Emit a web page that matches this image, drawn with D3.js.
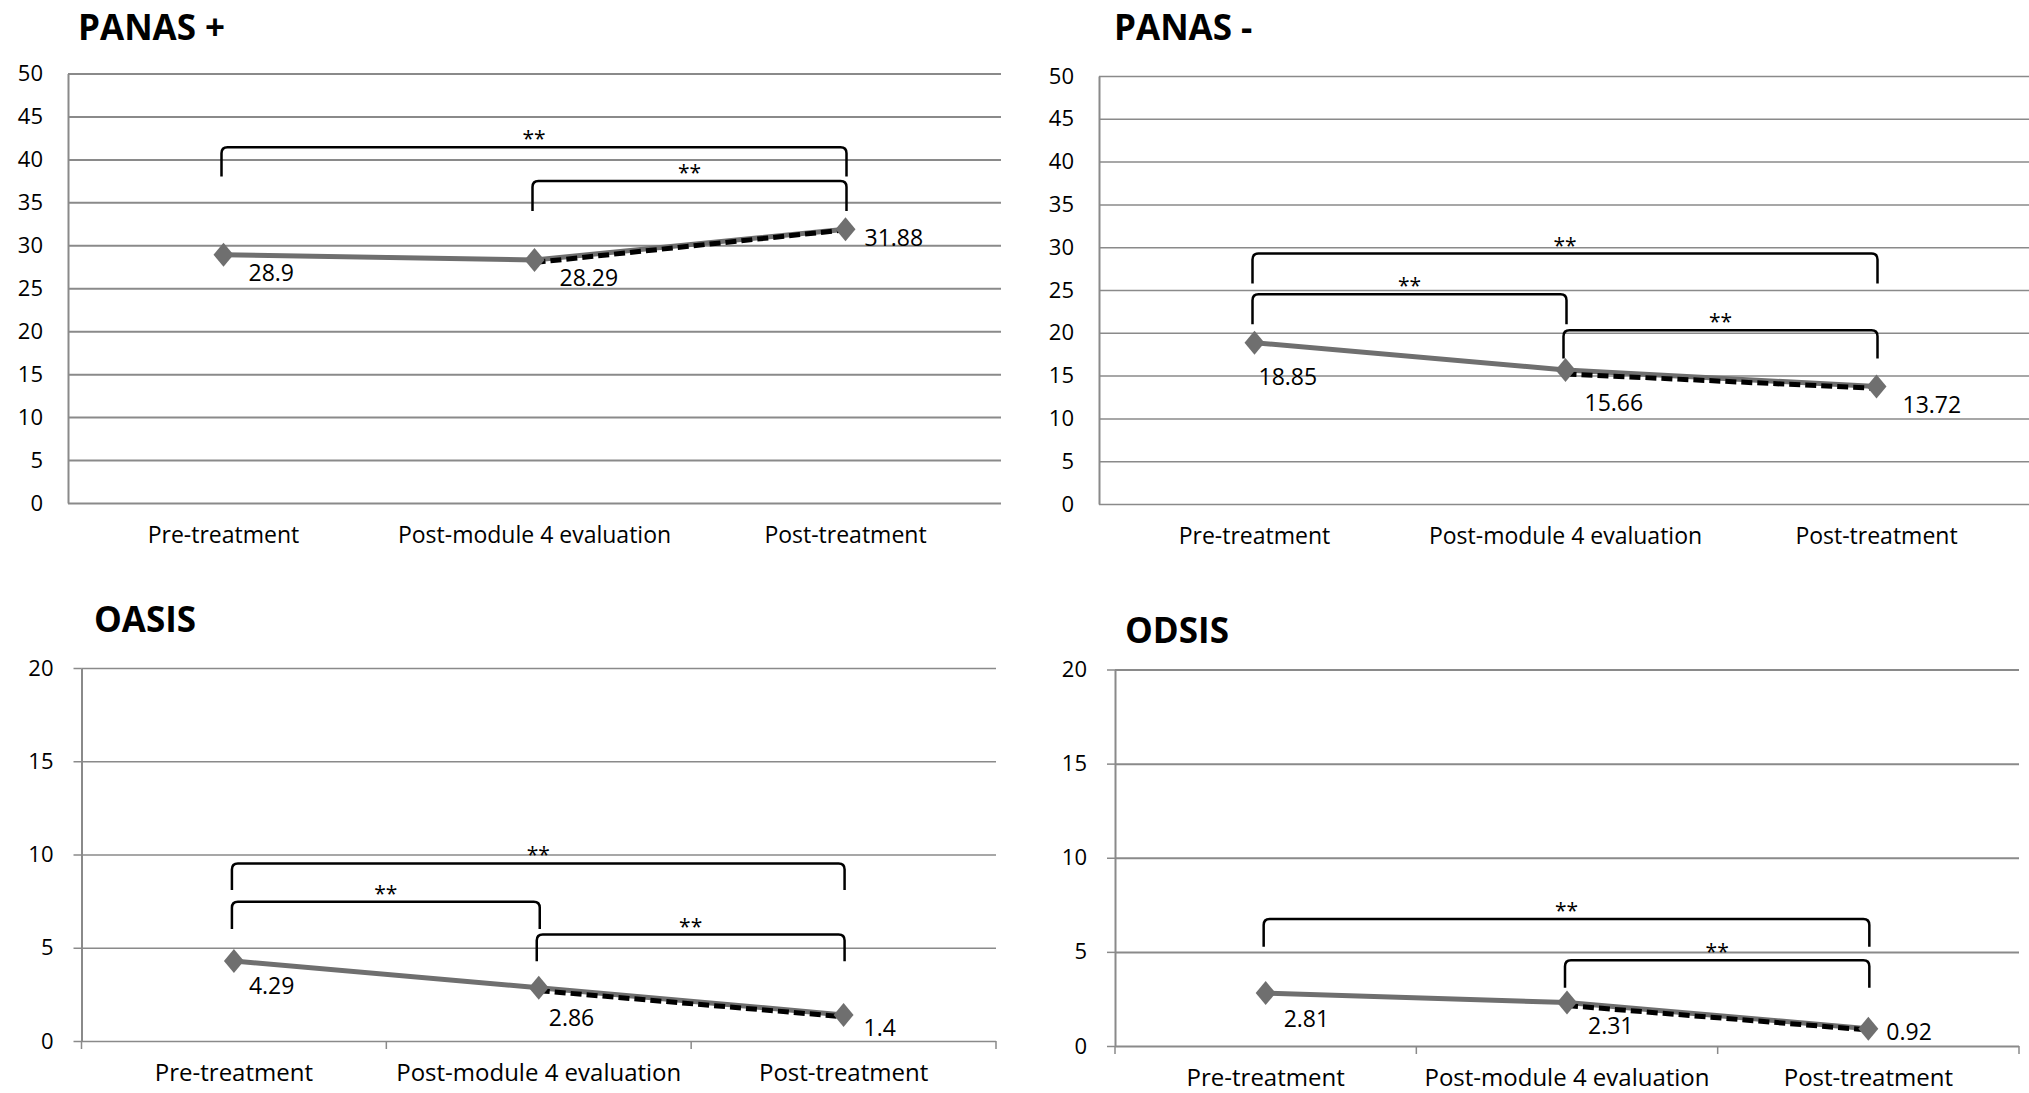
<!DOCTYPE html>
<html lang="en">
<head>
<meta charset="utf-8">
<title>PANAS / OASIS / ODSIS</title>
<script src="https://d3js.org/d3.v7.min.js"></script>
<style>
  body { margin: 0; background: #fff; }
  text { font-family: "Open Sans", "DejaVu Sans", sans-serif; fill: #000; }
</style>
</head>
<body>
<svg id="chart" width="2029" height="1093"></svg>
<script>
// ---- data ----
var categories = ["Pre-treatment", "Post-module 4 evaluation", "Post-treatment"];

var panasPosValues = [28.9, 28.29, 31.88];
var panasPosDashed = [null, 28.0, 31.8];
var panasPosBrackets = [[0, 2, 41.4, 38.0], [1, 2, 37.5, 34.0]];

var panasNegValues = [18.85, 15.66, 13.72];
var panasNegDashed = [null, 15.2, 13.5];
var panasNegBrackets = [[0, 2, 29.25, 25.75], [0, 1, 24.5, 21.0], [1, 2, 20.3, 17.0]];

var oasisValues = [4.29, 2.86, 1.4];
var oasisDashed = [null, 2.7, 1.3];
var oasisBrackets = [[0, 2, 9.52, 8.09], [0, 1, 7.47, 6.0], [1, 2, 5.71, 4.27]];

var odsisValues = [2.81, 2.31, 0.92];
var odsisDashed = [null, 2.15, 0.85];
var odsisBrackets = [[0, 2, 6.75, 5.27], [1, 2, 4.55, 3.1]];

var panasTicks = [0, 5, 10, 15, 20, 25, 30, 35, 40, 45, 50];
var scaleTicks = [0, 5, 10, 15, 20];

// ---- layout of the four panels ----
var panels = [
  { title: "PANAS +", values: panasPosValues, dashed: panasPosDashed, brackets: panasPosBrackets,
    ticks: panasTicks, max: 50, x0: 68, x1: 1001, yTop: 73.5, yBot: 503,
    titleX: 78, titleY: 40, labelY: 543, labelSize: 23, tickMarks: false, grid: 2,
    labelPos: [[25, 18], [25, 18], [19, 9]] },
  { title: "PANAS -", values: panasNegValues, dashed: panasNegDashed, brackets: panasNegBrackets,
    ticks: panasTicks, max: 50, x0: 1099, x1: 2032, yTop: 76, yBot: 504,
    titleX: 1114, titleY: 40, labelY: 544, labelSize: 23, tickMarks: false, grid: 1.5,
    labelPos: [[4, 34], [19, 33], [26, 18]] },
  { title: "OASIS", values: oasisValues, dashed: oasisDashed, brackets: oasisBrackets,
    ticks: scaleTicks, max: 20, x0: 81.5, x1: 996, yTop: 668, yBot: 1041,
    titleX: 94, titleY: 632, labelY: 1081, labelSize: 24, tickMarks: true, grid: 1.5,
    labelPos: [[15, 25], [10, 30], [20, 13]] },
  { title: "ODSIS", values: odsisValues, dashed: odsisDashed, brackets: odsisBrackets,
    ticks: scaleTicks, max: 20, x0: 1115, x1: 2019, yTop: 669.5, yBot: 1046,
    titleX: 1125, titleY: 643, labelY: 1086, labelSize: 24, tickMarks: true, grid: 2,
    labelPos: [[18, 26], [21, 23], [18, 3]] }
];

var svg = d3.select("#chart");
var gridColor = "#8a8a8a";
var lineColor = "#6f6f6f";

panels.forEach(function (p) {
  var g = svg.append("g");

  var x = d3.scaleBand().domain(categories).range([p.x0, p.x1]).paddingInner(0).paddingOuter(0);
  var y = d3.scaleLinear().domain([0, p.max]).range([p.yBot, p.yTop]);
  var cx = function (i) { return x(categories[i]) + x.bandwidth() / 2; };

  // title
  g.append("text")
    .attr("x", p.titleX).attr("y", p.titleY)
    .style("font-size", "35px").style("font-weight", "bold")
    .text(p.title);

  // gridlines
  var grid = g.append("g")
    .attr("transform", "translate(" + p.x0 + ",0)")
    .call(d3.axisLeft(y).tickValues(p.ticks).tickSize(-(p.x1 - p.x0)).tickFormat(""));
  grid.select(".domain").remove();
  grid.selectAll("line").attr("stroke", gridColor).attr("stroke-width", p.grid);

  // y tick labels
  var tm = p.tickMarks ? 8 : 0;
  var yAxis = g.append("g")
    .attr("transform", "translate(" + p.x0 + ",0)")
    .call(d3.axisLeft(y).tickValues(p.ticks).tickSize(tm).tickSizeOuter(0).tickPadding(p.tickMarks ? 20 : 25));
  yAxis.select(".domain").attr("stroke", gridColor).attr("stroke-width", 2);
  yAxis.selectAll("line").attr("stroke", gridColor).attr("stroke-width", 1.5);
  yAxis.selectAll("text").style("font-size", "22px").attr("fill", "#000");

  // x axis labels
  var xAxis = g.append("g")
    .attr("transform", "translate(0," + p.yBot + ")")
    .call(d3.axisBottom(x).tickSize(0).tickPadding(0));
  xAxis.select(".domain").remove();
  xAxis.selectAll("text")
    .attr("y", p.labelY - p.yBot).attr("dy", 0)
    .style("font-size", p.labelSize + "px").attr("fill", "#000");

  // category boundary ticks on the bottom panels
  if (p.tickMarks) {
    var bounds = categories.map(function (c) { return x(c); }).concat([x(categories[2]) + x.bandwidth()]);
    g.selectAll(".bt").data(bounds).enter().append("line")
      .attr("x1", function (d) { return d; }).attr("x2", function (d) { return d; })
      .attr("y1", p.yBot).attr("y2", p.yBot + 8)
      .attr("stroke", gridColor).attr("stroke-width", 1.5);
  }

  // significance brackets
  var r = 6;
  p.brackets.forEach(function (b) {
    var xa = cx(b[0]) - 2, xb = cx(b[1]) + 1, yl = y(b[2]), ye = y(b[3]);
    var path = d3.path();
    path.moveTo(xa, ye);
    path.lineTo(xa, yl + r);
    path.quadraticCurveTo(xa, yl, xa + r, yl);
    path.lineTo(xb - r, yl);
    path.quadraticCurveTo(xb, yl, xb, yl + r);
    path.lineTo(xb, ye);
    g.append("path").attr("d", path.toString())
      .attr("fill", "none").attr("stroke", "#000").attr("stroke-width", 2.5);
    g.append("text")
      .attr("x", (xa + xb) / 2).attr("y", yl - 1)
      .attr("text-anchor", "middle")
      .style("font-size", "21px")
      .text("**");
  });

  // solid series
  var line = d3.line()
    .defined(function (d) { return d != null; })
    .x(function (d, i) { return cx(i); })
    .y(function (d) { return y(d); });

  g.append("path").datum(p.values)
    .attr("d", line)
    .attr("fill", "none").attr("stroke", lineColor).attr("stroke-width", 5);

  // dashed series
  g.append("path").datum(p.dashed)
    .attr("d", line)
    .attr("fill", "none").attr("stroke", "#000").attr("stroke-width", 5)
    .attr("stroke-dasharray", "11,5");

  // diamond markers
  g.selectAll(".mk").data(p.values).enter().append("path")
    .attr("d", "M0,-12L10,0L0,12L-10,0Z")
    .attr("transform", function (d, i) { return "translate(" + cx(i) + "," + y(d) + ")"; })
    .attr("fill", lineColor);

  // data labels
  g.selectAll(".lbl").data(p.values).enter().append("text")
    .attr("x", function (d, i) { return cx(i) + p.labelPos[i][0]; })
    .attr("y", function (d, i) { return y(d) + p.labelPos[i][1]; })
    .attr("dy", "0.35em")
    .style("font-size", "23px")
    .text(function (d) { return String(d); });
});
</script>
</body>
</html>
